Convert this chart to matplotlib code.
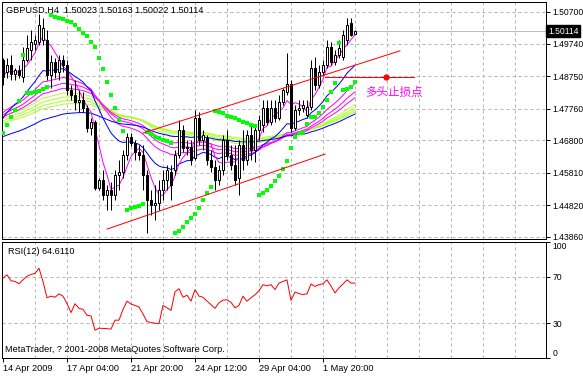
import matplotlib
matplotlib.use('Agg')
import matplotlib.pyplot as plt
import matplotlib.transforms as mtrans
import numpy as np
import pandas as pd

plt.rcParams['font.family'] = ['Liberation Sans', 'DejaVu Sans']

# GBPUSD H4 bars (bar index 0 = 14 Apr 2009)
opens = [1.4924, 1.4888, 1.4909, 1.4882, 1.4894, 1.4872, 1.4924, 1.4955, 1.4973, 1.4979,
         1.4985, 1.4985, 1.4879, 1.4918, 1.4888, 1.4924, 1.4909, 1.4833, 1.4818, 1.4796,
         1.4803, 1.4778, 1.4718, 1.4736, 1.4535, 1.4560, 1.4514, 1.4529, 1.4514, 1.4575,
         1.4584, 1.4635, 1.4690, 1.4672, 1.4645, 1.4635, 1.4575, 1.4499, 1.4483, 1.4490,
         1.4529, 1.4560, 1.4584, 1.4590, 1.4635, 1.4712, 1.4657, 1.4660, 1.4626, 1.4748,
         1.4681, 1.4687, 1.4620, 1.4599, 1.4560, 1.4590, 1.4681, 1.4635, 1.4605, 1.4566,
         1.4666, 1.4620, 1.4696, 1.4651, 1.4712, 1.4727, 1.4778, 1.4736, 1.4778, 1.4748,
         1.4796, 1.4827, 1.4851, 1.4718, 1.4772, 1.4778, 1.4757, 1.4781, 1.4900, 1.4848,
         1.4888, 1.4909, 1.4964, 1.4918, 1.4939, 1.4933, 1.4985, 1.5037, 1.50023]
highs = [1.4930, 1.4930, 1.4939, 1.4900, 1.4909, 1.4964, 1.5000, 1.5015, 1.5000, 1.5064,
         1.5052, 1.5015, 1.4939, 1.4930, 1.4939, 1.4939, 1.4924, 1.4848, 1.4863, 1.4833,
         1.4827, 1.4787, 1.4748, 1.4742, 1.4566, 1.4590, 1.4544, 1.4553, 1.4590, 1.4620,
         1.4651, 1.4702, 1.4702, 1.4681, 1.4666, 1.4666, 1.4590, 1.4529, 1.4544, 1.4560,
         1.4590, 1.4605, 1.4605, 1.4651, 1.4742, 1.4727, 1.4681, 1.4681, 1.4772, 1.4766,
         1.4712, 1.4696, 1.4651, 1.4620, 1.4605, 1.4696, 1.4712, 1.4666, 1.4666, 1.4681,
         1.4712, 1.4712, 1.4727, 1.4727, 1.4757, 1.4803, 1.4803, 1.4803, 1.4803, 1.4818,
         1.4839, 1.4945, 1.4863, 1.4787, 1.4803, 1.4803, 1.4803, 1.4924, 1.4933, 1.4909,
         1.4924, 1.4985, 1.4979, 1.4955, 1.4985, 1.5015, 1.5052, 1.5052, 1.50163]
lows = [1.4848, 1.4869, 1.4863, 1.4863, 1.4869, 1.4857, 1.4918, 1.4924, 1.4955, 1.4970,
        1.4970, 1.4863, 1.4839, 1.4869, 1.4863, 1.4888, 1.4818, 1.4803, 1.4772, 1.4766,
        1.4766, 1.4705, 1.4696, 1.4529, 1.4529, 1.4499, 1.4468, 1.4468, 1.4499, 1.4529,
        1.4566, 1.4620, 1.4663, 1.4620, 1.4620, 1.4529, 1.4398, 1.4453, 1.4438, 1.4468,
        1.4499, 1.4529, 1.4499, 1.4575, 1.4626, 1.4645, 1.4635, 1.4605, 1.4620, 1.4666,
        1.4651, 1.4605, 1.4584, 1.4529, 1.4544, 1.4575, 1.4620, 1.4590, 1.4544, 1.4514,
        1.4590, 1.4605, 1.4620, 1.4614, 1.4681, 1.4705, 1.4727, 1.4727, 1.4736, 1.4742,
        1.4787, 1.4818, 1.4705, 1.4712, 1.4757, 1.4766, 1.4748, 1.4772, 1.4833, 1.4839,
        1.4879, 1.4900, 1.4909, 1.4909, 1.4930, 1.4924, 1.4970, 1.4997, 1.50022]
closes = [1.4872, 1.4909, 1.4882, 1.4894, 1.4879, 1.4924, 1.4961, 1.4979, 1.4985, 1.5031,
          1.5021, 1.4879, 1.4918, 1.4888, 1.4924, 1.4909, 1.4833, 1.4818, 1.4796, 1.4803,
          1.4778, 1.4718, 1.4736, 1.4535, 1.4560, 1.4514, 1.4529, 1.4514, 1.4575, 1.4584,
          1.4635, 1.4690, 1.4672, 1.4645, 1.4635, 1.4575, 1.4499, 1.4483, 1.4490, 1.4529,
          1.4560, 1.4590, 1.4544, 1.4635, 1.4712, 1.4657, 1.4660, 1.4620, 1.4748, 1.4681,
          1.4696, 1.4620, 1.4599, 1.4560, 1.4590, 1.4681, 1.4635, 1.4605, 1.4560, 1.4666,
          1.4620, 1.4696, 1.4651, 1.4712, 1.4742, 1.4778, 1.4736, 1.4778, 1.4748, 1.4796,
          1.4833, 1.4851, 1.4718, 1.4772, 1.4778, 1.4787, 1.4781, 1.4900, 1.4848, 1.4888,
          1.4909, 1.4964, 1.4918, 1.4939, 1.4961, 1.5000, 1.5031, 1.5000, 1.50114]

# Parabolic SAR dots
sar = [1.4702, 1.4727, 1.4751, 1.4772, 1.4799, 1.4939, 1.4824, 1.4824, 1.4827, 1.4830,
       1.4836, 1.4842, 1.5061, 1.5055, 1.5052, 1.5049, 1.5043, 1.5040, 1.5031, 1.5018,
       1.5006, 1.4997, 1.4979, 1.4964, 1.4930, 1.4897, 1.4857, 1.4818, 1.4778, 1.4742,
       1.4708, 1.4468, 1.4474, 1.4477, 1.4480, 1.4487, 1.4705, 1.4699, 1.4690, 1.4687,
       1.4681, 1.4678, 1.4672, 1.4398, 1.4404, 1.4416, 1.4432, 1.4444, 1.4456, 1.4474,
       1.4499, 1.4520, 1.4538, 1.4769, 1.4766, 1.4763, 1.4754, 1.4751, 1.4748, 1.4742,
       1.4736, 1.4733, 1.4727, 1.4724, 1.4514, 1.4520, 1.4529, 1.4541, 1.4556, 1.4572,
       1.4593, 1.4617, 1.4657, 1.4690, 1.4702, 1.4702, 1.4730, 1.4751, 1.4751, 1.4763,
       1.4781, 1.4803, 1.4827, 1.4854, 1.4976, 1.4833, 1.4836, 1.4842, 1.4857]

rsi = [68.9, 71.7, 66.6, 66.0, 64.0, 67.4, 70.5, 72.0, 73.0, 77.4,
       66.0, 51.9, 53.3, 52.4, 55.3, 53.3, 47.0, 39.1, 46.8, 42.8,
       41.9, 36.8, 36.3, 24.0, 25.7, 25.5, 25.3, 24.9, 32.6, 32.6,
       41.9, 49.0, 46.5, 45.3, 44.0, 38.0, 31.4, 30.6, 30.0, 29.7,
       45.3, 43.3, 41.0, 57.0, 59.8, 52.4, 54.1, 49.0, 58.9, 53.3,
       52.4, 49.0, 46.0, 42.8, 47.6, 49.9, 50.2, 48.0, 43.3, 45.3,
       53.3, 49.0, 51.9, 54.5, 58.0, 63.2, 62.3, 63.2, 59.0, 64.6,
       66.0, 67.4, 49.6, 56.9, 55.5, 54.7, 55.3, 63.8, 61.7, 63.2,
       64.0, 67.4, 62.0, 56.1, 60.4, 63.8, 67.4, 64.6, 64.611]

# moving averages: (period, value at left edge)
magenta_ma = [(30, 1.4757), (38, 1.4751), (46, 1.4745)]
green_ma = [(60, 1.4748), (70, 1.4742), (80, 1.4736), (90, 1.4730)]
blue_ma = [(18, 1.4733), (90, 1.4687)]

# hand drawn objects: (bar, price) pairs
up_line = [(35, 1.4702), (99.25, 1.4952)]
low_line = [(26, 1.4410), (80.5, 1.4638)]
stop_line = [(80.5, 1.4871), (102.75, 1.4871)]
stop_dot = (95.75, 1.4871)

price_ticks = [1.50700, 1.49740, 1.48750, 1.47760, 1.46800, 1.45810, 1.44820, 1.43860]
time_pos = [0, 16, 32, 48, 64, 80]
time_labels = ['14 Apr 2009', '17 Apr 04:00', '21 Apr 20:00', '24 Apr 12:00',
               '29 Apr 04:00', '1 May 20:00']


def ema(values, period, seed):
    a = 2.0 / (period + 1)
    out = []
    prev = seed
    for v in values:
        prev = prev + a * (v - prev)
        out.append(prev)
    return out


W, H = 583, 376
fs = 6.6
fig = plt.figure(figsize=(W / 100, H / 100), dpi=100)
fig.patch.set_facecolor('white')
ax = fig.add_axes([2 / W, 1 - 239 / H, 544 / W, 237 / H])
ax2 = fig.add_axes([2 / W, 1 - 358 / H, 544 / W, 116 / H])

x = np.arange(len(closes))
lw = 0.72
gridc = '#b4b4b4'

for a in (ax, ax2):
    a.set_xlim(-0.25, 135.75)
    for g in range(8, 136, 8):
        a.axvline(g, color=gridc, lw=lw, ls=(0, (3, 3)), zorder=0)
    for s in a.spines.values():
        s.set_linewidth(lw)
        s.set_color('black')
    a.yaxis.tick_right()
    a.tick_params(axis='y', length=3, width=lw, pad=1.5, labelsize=6.2, direction='out')

ax.set_ylim(1.43799, 1.51004)
for p in price_ticks:
    ax.axhline(p, color=gridc, lw=lw, ls=(0, (3, 3)), zorder=0)
ax.set_yticks(price_ticks)
ax.set_yticklabels(['%.5f' % p for p in price_ticks])
ax.set_xticks([])

# current price line
ax.axhline(closes[-1], color='#c0c0c0', lw=lw, zorder=1)

# moving averages
cs = pd.Series(closes)
for per, seed in green_ma:
    ax.plot(x, ema(closes, per, seed), color='#adff2f', lw=lw, zorder=2)
for per, seed in magenta_ma:
    ax.plot(x, ema(closes, per, seed), color='#ff00ff', lw=lw, zorder=2)
for per, seed in blue_ma:
    ax.plot(x, ema(closes, per, seed), color='#0000ff', lw=lw, zorder=2)
ax.plot(x, cs.rolling(5, min_periods=1).mean(), color='#ff00ff', lw=lw, zorder=3)

# candles
ax.vlines(x, lows, highs, color='black', lw=lw, zorder=4)
o = np.array(opens)
c = np.array(closes)
body = np.maximum(np.abs(c - o), 0.00004)
face = ['white' if cc >= oo else 'black' for oo, cc in zip(o, c)]
ax.bar(x, body, bottom=np.minimum(o, c), width=0.5, color=face,
       edgecolor='black', linewidth=lw, zorder=5)

# parabolic SAR
ax.scatter(x, sar, marker='s', s=6, color='#00ff00', lw=0, zorder=6)

# trend lines
for ln in (up_line, low_line, stop_line):
    ax.plot([ln[0][0], ln[1][0]], [ln[0][1], ln[1][1]], color='#ff0000', lw=lw, zorder=7)
ax.plot(stop_dot[0], stop_dot[1], 'o', color='#ff0000', ms=3.5, zorder=7)
ax.text(90.5, 1.4826, '多头止损点', color='#ff00ff', fontsize=8.3,
        family=['Noto Sans CJK SC', 'DejaVu Sans'], ha='left', va='center', zorder=8)

# price box
ax.text(1.004, closes[-1], '%.5f' % closes[-1], color='white', fontsize=6.2,
        transform=mtrans.blended_transform_factory(ax.transAxes, ax.transData),
        ha='left', va='center', clip_on=False,
        bbox=dict(boxstyle='square,pad=0.2', fc='black', ec='black'), zorder=9)

fig.text(6 / W, 1 - 10 / H, 'GBPUSD,H4  1.50023 1.50163 1.50022 1.50114',
         fontsize=fs, ha='left', va='center')

# RSI panel
ax2.set_ylim(0, 100)
for lv in (30, 70):
    ax2.axhline(lv, color=gridc, lw=lw, ls=(0, (3, 3)), zorder=0)
ax2.plot(x, rsi, color='#ff0000', lw=lw, zorder=3)
ax2.set_yticks([0, 30, 70, 100])
ax2.set_yticklabels(['0', '30', '70', '100'])
ylabs = ax2.get_yticklabels()
ylabs[0].set_va('bottom')
ylabs[3].set_va('top')
ax2.set_xticks(time_pos)
ax2.set_xticklabels(time_labels, ha='left')
ax2.tick_params(axis='x', length=3, width=lw, pad=1, labelsize=fs)
ax2.text(6 / 544, 1 - 9 / 116, 'RSI(12) 64.6110', transform=ax2.transAxes,
         fontsize=fs, ha='left', va='center')
ax2.text(3 / 544, 8 / 116, 'MetaTrader, ? 2001-2008 MetaQuotes Software Corp.',
         transform=ax2.transAxes, fontsize=fs, ha='left', va='center')

fig.savefig('out.png', dpi=100)
